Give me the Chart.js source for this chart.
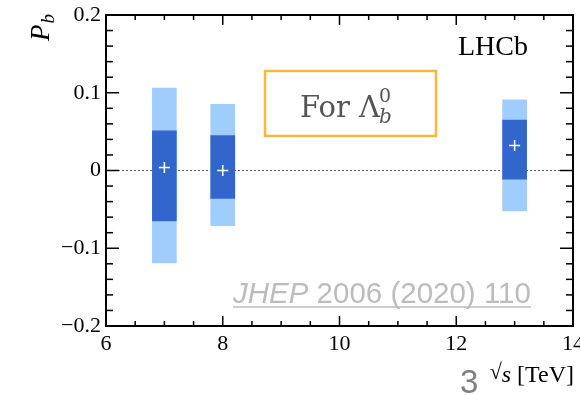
<!DOCTYPE html>
<html>
<head>
<meta charset="utf-8">
<script src="https://cdn.jsdelivr.net/npm/chart.js@4.4.1/dist/chart.umd.min.js"></script>
<style>
  html, body { margin: 0; padding: 0; background: #fff; }
  #wrap { width: 580px; height: 395px; }
</style>
</head>
<body>
<div id="wrap"><canvas id="myChart" width="580" height="395"></canvas></div>
<script>
// sqrt(s) in TeV and measured polarisation
const energies = [7, 8, 13];
const central = [0.004, 0.0, 0.032];
const statLow = [-0.065, -0.036, -0.011];
const statHigh = [0.051, 0.045, 0.065];
const totLow = [-0.119, -0.071, -0.052];
const totHigh = [0.106, 0.085, 0.091];

const xTicks = [6, 8, 10, 12, 14];
const yTicks = [-0.2, -0.1, 0, 0.1, 0.2];
const yTickLabels = ["\u22120.2", "\u22120.1", "0", "0.1", "0.2"];

const serif = "'Liberation Serif', 'Times New Roman', serif";

/* marcos, ticks internos y textos estilo ROOT */
const rootStyle = {
  id: "rootStyle",
  beforeDatasetsDraw(chart) {
    const { ctx, chartArea: a, scales: { y } } = chart;
    const y0 = y.getPixelForValue(0);
    ctx.save();
    ctx.strokeStyle = "#666";
    ctx.lineWidth = 1;
    ctx.setLineDash([2, 2]);
    ctx.beginPath();
    ctx.moveTo(a.left, y0);
    ctx.lineTo(a.right, y0);
    ctx.stroke();
    ctx.restore();
  },
  afterDraw(chart) {
    const { ctx, chartArea: a, scales: { x, y } } = chart;
    const seg = (x1, y1, x2, y2) => {
      ctx.beginPath();
      ctx.moveTo(x1, y1);
      ctx.lineTo(x2, y2);
      ctx.stroke();
    };
    ctx.save();
    ctx.strokeStyle = "#000";
    ctx.lineWidth = 1.5;
    for (let i = 0; i <= (x.max - x.min) / 0.5; i++) {
      const v = x.min + i * 0.5;
      const px = x.getPixelForValue(v);
      const len = i % 4 === 0 ? 10 : 5;
      seg(px, a.bottom, px, a.bottom - len);
      seg(px, a.top, px, a.top + len);
    }
    for (let i = 0; i <= 20; i++) {
      const v = y.min + i * 0.02;
      const py = y.getPixelForValue(v);
      const len = i % 5 === 0 ? 13 : 7;
      seg(a.left, py, a.left + len, py);
      seg(a.right, py, a.right - len, py);
    }
    ctx.lineWidth = 2;
    ctx.strokeRect(a.left, a.top, a.right - a.left, a.bottom - a.top);

    // LHCb
    ctx.fillStyle = "#000";
    ctx.font = "28px " + serif;
    ctx.textBaseline = "alphabetic";
    ctx.textAlign = "left";
    ctx.fillText("LHCb", 458, 55);

    // titulo eje Y
    ctx.save();
    ctx.translate(49, 41);
    ctx.rotate(-Math.PI / 2);
    ctx.font = "italic 27px " + serif;
    ctx.fillText("P", 0, 0);
    const pw = ctx.measureText("P").width;
    ctx.font = "italic 19px " + serif;
    ctx.fillText("b", pw + 1, 5);
    ctx.restore();

    // titulo eje X
    ctx.textAlign = "left";
    ctx.font = "24px " + serif;
    const tev = " [TeV]";
    const tevW = ctx.measureText(tev).width;
    ctx.font = "italic 24px " + serif;
    const sW = ctx.measureText("s").width;
    ctx.font = "22px " + serif;
    const rW = ctx.measureText("\u221A").width;
    let tx = 574 - tevW - sW - rW;
    ctx.fillText("\u221A", tx, 379);
    tx += rW;
    ctx.font = "italic 24px " + serif;
    ctx.fillText("s", tx, 382);
    tx += sW;
    ctx.font = "24px " + serif;
    ctx.fillText(tev, tx, 382);

    // caja naranja
    ctx.strokeStyle = "#fbb63c";
    ctx.lineWidth = 2.5;
    ctx.strokeRect(265, 71, 171, 65);
    ctx.fillStyle = "#555";
    ctx.font = "29px 'DejaVu Serif', serif";
    ctx.fillText("For \u039B", 300, 117);
    const fw = ctx.measureText("For \u039B").width;
    ctx.font = "19px 'DejaVu Serif', serif";
    ctx.fillText("0", 299 + fw, 102);
    ctx.font = "italic 20px 'DejaVu Serif', serif";
    ctx.fillText("b", 299 + fw, 123);

    // referencia JHEP
    ctx.fillStyle = "#bcbcbc";
    ctx.strokeStyle = "#bcbcbc";
    ctx.lineWidth = 1.5;
    ctx.font = "italic 29.5px 'Liberation Sans', Arial, sans-serif";
    ctx.fillText("JHEP", 233, 303);
    const jw = ctx.measureText("JHEP").width;
    ctx.font = "29.5px 'Liberation Sans', Arial, sans-serif";
    ctx.fillText(" 2006 (2020) 110", 233 + jw, 303);
    const rw = ctx.measureText(" 2006 (2020) 110").width;
    seg(233, 307, 233 + jw + rw, 307);

    // "3" gris
    ctx.fillStyle = "#808080";
    ctx.font = "33px 'Liberation Sans', Arial, sans-serif";
    ctx.fillText("3", 460, 393);
    ctx.restore();
  }
};

const ctx = document.getElementById("myChart");

new Chart(ctx, {
  type: "bar",
  data: {
    datasets: [
      {
        type: "scatter",
        data: energies.map((e, i) => ({ x: e, y: central[i] })),
        pointStyle: "cross",
        pointRadius: 5.5,
        pointBorderColor: "#fff",
        pointBorderWidth: 1.5,
        pointBackgroundColor: "#fff",
      },
      {
        data: energies.map((e, i) => ({ x: e, y: [statLow[i], statHigh[i]] })),
        backgroundColor: "#3366cc",
        barThickness: 24,
        grouped: false,
      },
      {
        data: energies.map((e, i) => ({ x: e, y: [totLow[i], totHigh[i]] })),
        backgroundColor: "#9fcdfd",
        barThickness: 24,
        grouped: false,
      },
    ],
  },
  options: {
    responsive: false,
    animation: false,
    devicePixelRatio: 1,
    layout: { padding: { left: 0, top: 15, right: 7, bottom: 0 } },
    plugins: { legend: { display: false }, tooltip: { enabled: false } },
    scales: {
      x: {
        type: "linear",
        min: 6,
        max: 14,
        offset: false,
        grid: { display: false, drawTicks: false },
        border: { display: false },
        afterBuildTicks: (s) => { s.ticks = xTicks.map((v) => ({ value: v })); },
        afterFit: (s) => { s.height = 69; s.paddingLeft = 0; s.paddingRight = 0; },
        ticks: {
          padding: 5,
          maxRotation: 0,
          autoSkip: false,
          color: "#000",
          font: { family: serif, size: 22 },
          callback: (v) => String(v),
        },
      },
      y: {
        min: -0.2,
        max: 0.2,
        grid: { display: false, drawTicks: false },
        border: { display: false },
        afterBuildTicks: (s) => { s.ticks = yTicks.map((v) => ({ value: v })); },
        afterFit: (s) => { s.width = 106; s.paddingTop = 0; s.paddingBottom = 0; },
        ticks: {
          padding: 5,
          autoSkip: false,
          color: "#000",
          font: { family: serif, size: 22 },
          callback: (v, i) => yTickLabels[i],
        },
      },
    },
  },
  plugins: [rootStyle],
});
</script>
</body>
</html>
